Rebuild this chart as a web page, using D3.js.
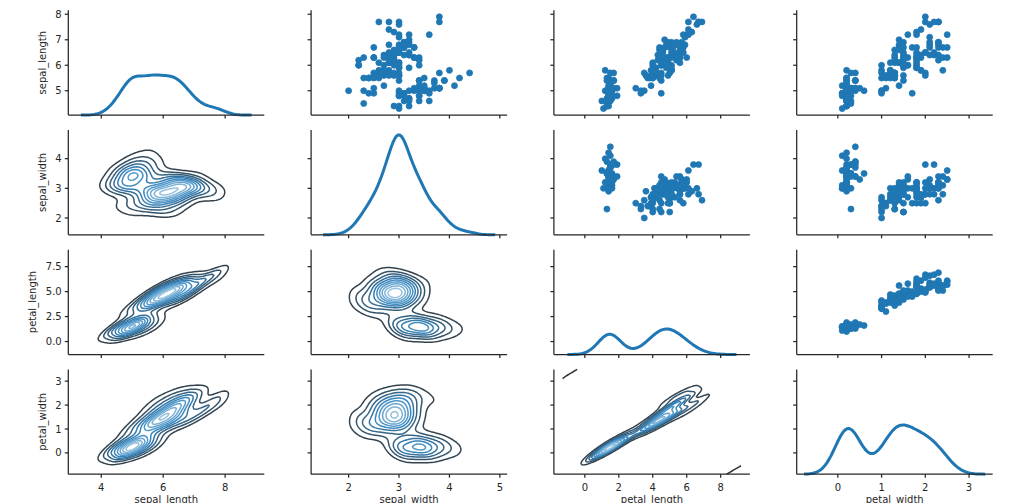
<!DOCTYPE html>
<html><head><meta charset="utf-8">
<script src="https://cdn.jsdelivr.net/npm/d3@7"></script>
<style>
body{margin:0;background:#fff}
text{font-family:"DejaVu Sans",sans-serif;font-size:10px;fill:#262626}
</style>
</head><body>
<svg id="chart" width="1024" height="503"></svg>
<script>
// ---------------- data (iris) ----------------
const varNames = ["sepal_length", "sepal_width", "petal_length", "petal_width"];

const sepal_length = [5.1,4.9,4.7,4.6,5.0,5.4,4.6,5.0,4.4,4.9,5.4,4.8,4.8,4.3,5.8,5.7,5.4,5.1,5.7,5.1,5.4,5.1,4.6,5.1,4.8,5.0,5.0,5.2,5.2,4.7,4.8,5.4,5.2,5.5,4.9,5.0,5.5,4.9,4.4,5.1,5.0,4.5,4.4,5.0,5.1,4.8,5.1,4.6,5.3,5.0,
7.0,6.4,6.9,5.5,6.5,5.7,6.3,4.9,6.6,5.2,5.0,5.9,6.0,6.1,5.6,6.7,5.6,5.8,6.2,5.6,5.9,6.1,6.3,6.1,6.4,6.6,6.8,6.7,6.0,5.7,5.5,5.5,5.8,6.0,5.4,6.0,6.7,6.3,5.6,5.5,5.5,6.1,5.8,5.0,5.6,5.7,5.7,6.2,5.1,5.7,
6.3,5.8,7.1,6.3,6.5,7.6,4.9,7.3,6.7,7.2,6.5,6.4,6.8,5.7,5.8,6.4,6.5,7.7,7.7,6.0,6.9,5.6,7.7,6.3,6.7,7.2,6.2,6.1,6.4,7.2,7.4,7.9,6.4,6.3,6.1,7.7,6.3,6.4,6.0,6.9,6.7,6.9,5.8,6.8,6.7,6.7,6.3,6.5,6.2,5.9];
const sepal_width = [3.5,3.0,3.2,3.1,3.6,3.9,3.4,3.4,2.9,3.1,3.7,3.4,3.0,3.0,4.0,4.4,3.9,3.5,3.8,3.8,3.4,3.7,3.6,3.3,3.4,3.0,3.4,3.5,3.4,3.2,3.1,3.4,4.1,4.2,3.1,3.2,3.5,3.6,3.0,3.4,3.5,2.3,3.2,3.5,3.8,3.0,3.8,3.2,3.7,3.3,
3.2,3.2,3.1,2.3,2.8,2.8,3.3,2.4,2.9,2.7,2.0,3.0,2.2,2.9,2.9,3.1,3.0,2.7,2.2,2.5,3.2,2.8,2.5,2.8,2.9,3.0,2.8,3.0,2.9,2.6,2.4,2.4,2.7,2.7,3.0,3.4,3.1,2.3,3.0,2.5,2.6,3.0,2.6,2.3,2.7,3.0,2.9,2.9,2.5,2.8,
3.3,2.7,3.0,2.9,3.0,3.0,2.5,2.9,2.5,3.6,3.2,2.7,3.0,2.5,2.8,3.2,3.0,3.8,2.6,2.2,3.2,2.8,2.8,2.7,3.3,3.2,2.8,3.0,2.8,3.0,2.8,3.8,2.8,2.8,2.6,3.0,3.4,3.1,3.0,3.1,3.1,3.1,2.7,3.2,3.3,3.0,2.5,3.0,3.4,3.0];
const petal_length = [1.4,1.4,1.3,1.5,1.4,1.7,1.4,1.5,1.4,1.5,1.5,1.6,1.4,1.1,1.2,1.5,1.3,1.4,1.7,1.5,1.7,1.5,1.0,1.7,1.9,1.6,1.6,1.5,1.4,1.6,1.6,1.5,1.5,1.4,1.5,1.2,1.3,1.4,1.3,1.5,1.3,1.3,1.3,1.6,1.9,1.4,1.6,1.4,1.5,1.4,
4.7,4.5,4.9,4.0,4.6,4.5,4.7,3.3,4.6,3.9,3.5,4.2,4.0,4.7,3.6,4.4,4.5,4.1,4.5,3.9,4.8,4.0,4.9,4.7,4.3,4.4,4.8,5.0,4.5,3.5,3.8,3.7,3.9,5.1,4.5,4.5,4.7,4.4,4.1,4.0,4.4,4.6,4.0,3.3,4.2,4.2,4.2,4.3,3.0,4.1,
6.0,5.1,5.9,5.6,5.8,6.6,4.5,6.3,5.8,6.1,5.1,5.3,5.5,5.0,5.1,5.3,5.5,6.7,6.9,5.0,5.7,4.9,6.7,4.9,5.7,6.0,4.8,4.9,5.6,5.8,6.1,6.4,5.6,5.1,5.6,6.1,5.6,5.5,4.8,5.4,5.6,5.1,5.1,5.9,5.7,5.2,5.0,5.2,5.4,5.1];
const petal_width = [0.2,0.2,0.2,0.2,0.2,0.4,0.3,0.2,0.2,0.1,0.2,0.2,0.1,0.1,0.2,0.4,0.4,0.3,0.3,0.3,0.2,0.4,0.2,0.5,0.2,0.2,0.4,0.2,0.2,0.2,0.2,0.4,0.1,0.2,0.2,0.2,0.2,0.1,0.2,0.2,0.3,0.3,0.2,0.6,0.4,0.3,0.2,0.2,0.2,0.2,
1.4,1.5,1.5,1.3,1.5,1.3,1.6,1.0,1.3,1.4,1.0,1.5,1.0,1.4,1.3,1.4,1.5,1.0,1.5,1.1,1.8,1.3,1.5,1.2,1.3,1.4,1.4,1.7,1.5,1.0,1.1,1.0,1.2,1.6,1.5,1.6,1.5,1.3,1.3,1.3,1.2,1.4,1.2,1.0,1.3,1.2,1.3,1.3,1.1,1.3,
2.5,1.9,2.1,1.8,2.2,2.1,1.7,1.8,1.8,2.5,2.0,1.9,2.1,2.0,2.4,2.3,1.8,2.2,2.3,1.5,2.3,2.0,2.0,1.8,2.1,1.8,1.8,1.8,2.1,1.6,1.9,2.0,2.2,1.5,1.4,2.3,2.4,1.8,1.8,2.1,2.4,2.3,1.9,2.3,2.5,2.3,1.9,2.0,2.3,1.8];

// tick values and labels (x axis per column, y axis per row)
const xTickValues = [[4, 6, 8], [2, 3, 4, 5], [0, 2, 4, 6, 8], [0, 1, 2, 3]];
const xTickLabels = [["4", "6", "8"], ["2", "3", "4", "5"], ["0", "2", "4", "6", "8"], ["0", "1", "2", "3"]];
const yTickValues = [[5, 6, 7, 8], [2, 3, 4], [0, 2.5, 5, 7.5], [0, 1, 2, 3]];
const yTickLabels = [["5", "6", "7", "8"], ["2", "3", "4"], ["0.0", "2.5", "5.0", "7.5"], ["0", "1", "2", "3"]];

// ---------------- layout / style ----------------
const AX_LEFT0 = 68.3, AX_DX = 242.8, AX_W = 196;
const AX_TOP0 = 10.3, AX_DY = 119.7, AX_H = 104.8;
const ROW1_PAD = 0.071, MARGIN = 0.05;
const C0 = "#1f77b4", INK = "#262626";
const GRID = 100, CUT = 3;

const columns = {sepal_length, sepal_width, petal_length, petal_width};
const V = varNames.map(n => columns[n]);
const K = V.length;

// ---------------- stats helpers ----------------
const mean = a => d3.mean(a);
function std(a, ddof) { const m = mean(a); return Math.sqrt(d3.sum(a, v => (v - m) ** 2) / (a.length - ddof)); }

function kde1d(a) {
  const n = a.length, f = Math.pow(n, -0.2);
  const h = std(a, 1) * f, bw = f * std(a, 0);
  const lo = d3.min(a) - CUT * bw, hi = d3.max(a) + CUT * bw;
  const pts = [];
  for (let k = 0; k < GRID; k++) {
    const x = lo + (hi - lo) * k / (GRID - 1);
    let s = 0;
    for (const v of a) { const u = (x - v) / h; s += Math.exp(-0.5 * u * u); }
    pts.push([x, s / (n * h * Math.sqrt(2 * Math.PI))]);
  }
  return {pts, lo, hi};
}

function kde2d(xa, ya) {
  const n = xa.length, f = Math.pow(n, -1 / 6);
  const mx = mean(xa), my = mean(ya);
  let sxx = 0, syy = 0, sxy = 0;
  for (let k = 0; k < n; k++) { const dx = xa[k] - mx, dy = ya[k] - my; sxx += dx * dx; syy += dy * dy; sxy += dx * dy; }
  sxx /= (n - 1); syy /= (n - 1); sxy /= (n - 1);
  const a = sxx * f * f, b = sxy * f * f, d = syy * f * f;
  const det = a * d - b * b;
  const ia = d / det, ib = -b / det, id = a / det;
  const norm = 2 * Math.PI * Math.sqrt(det) * n;
  const bwx = f * std(xa, 1), bwy = f * std(ya, 1);
  const x0 = d3.min(xa) - CUT * bwx, x1 = d3.max(xa) + CUT * bwx;
  const y0 = d3.min(ya) - CUT * bwy, y1 = d3.max(ya) + CUT * bwy;
  const values = new Float64Array(GRID * GRID);
  for (let j = 0; j < GRID; j++) {
    const y = y0 + (y1 - y0) * j / (GRID - 1);
    for (let i = 0; i < GRID; i++) {
      const x = x0 + (x1 - x0) * i / (GRID - 1);
      let s = 0;
      for (let k = 0; k < n; k++) {
        const ex = x - xa[k], ey = y - ya[k];
        s += Math.exp(-(ia * ex * ex + 2 * ib * ex * ey + id * ey * ey) / 2);
      }
      values[j * GRID + i] = s / norm;
    }
  }
  return {values, x0, x1, y0, y1, zmin: d3.min(values), zmax: d3.max(values)};
}

// matplotlib MaxNLocator(N+1) level selection for contour(N=10)
function mplLevels(zmin, zmax, nbins) {
  const steps = [1, 1.5, 2, 2.5, 3, 4, 5, 6, 8, 10];
  const dv = zmax - zmin;
  const scale = Math.pow(10, Math.floor(Math.log10(dv / nbins)));
  const ext = [...steps.slice(0, -1).map(s => s * 0.1), ...steps, steps[1] * 10].map(s => s * scale);
  const raw = dv / nbins;
  let istep = ext.findIndex(s => s >= raw);
  let ticks = [];
  for (let q = istep; q < ext.length; q++) {
    const step = ext[q];
    const best = Math.floor(zmin / step) * step;
    const tol = 1e-10;
    const low = Math.floor((zmin - best) / step + tol);
    const high = Math.ceil((zmax - best) / step - tol);
    ticks = [];
    for (let t = low; t <= high; t++) ticks.push(t * step + best);
    const cnt = ticks.filter(t => t <= zmax && t >= zmin).length;
    if (cnt >= 1) break;
  }
  const under = ticks.map((t, i) => t < zmin ? i : -1).filter(i => i >= 0);
  const i0 = under.length ? under[under.length - 1] : 0;
  const overIdx = ticks.findIndex(t => t > zmax);
  const i1 = overIdx >= 0 ? overIdx + 1 : ticks.length;
  return ticks.slice(i0, i1);
}

const blues_d = d3.piecewise(d3.interpolateRgb, ["#333333", "#3787c0", "#abd0e6"]);

// ---------------- compute ----------------
const k1 = V.map(kde1d);
const k2 = {};
for (let i = 0; i < K; i++) for (let j = 0; j < i; j++) k2[i + "_" + j] = kde2d(V[j], V[i]);

const colDom = V.map((a, j) => {
  let lo = Math.min(d3.min(a), k1[j].lo), hi = Math.max(d3.max(a), k1[j].hi);
  for (let i = j + 1; i < K; i++) { const g = k2[i + "_" + j]; lo = Math.min(lo, g.x0); hi = Math.max(hi, g.x1); }
  const m = (hi - lo) * MARGIN;
  return [lo - m, hi + m];
});
const rowDom = V.map((a, i) => {
  if (i === 0) { const lo = d3.min(a), hi = d3.max(a), m = (hi - lo) * ROW1_PAD; return [lo - m, hi + m]; }
  const g = k2[i + "_0"];
  return [g.y0, g.y1];
});
const allDens = k1.flatMap(k => k.pts.map(p => p[1]));
const dMin = d3.min(allDens), dMax = d3.max(allDens);
const diagTop = dMax + (dMax - dMin) * MARGIN;

// ---------------- draw ----------------
const svg = d3.select("#chart");
const xs = colDom.map(dm => d3.scaleLinear().domain(dm).range([0, AX_W]));
const ys = rowDom.map(dm => d3.scaleLinear().domain(dm).range([AX_H, 0]));
const dy = d3.scaleLinear().domain([0, diagTop]).range([AX_H, 0]);
const contourGen = d3.contours().size([GRID, GRID]);

function contourPaths(g, level, sx, sy) {
  const geom = contourGen.contour(g.values, level);
  const gx = (g.x1 - g.x0) / (GRID - 1), gy = (g.y1 - g.y0) / (GRID - 1);
  const P = c => [sx(g.x0 + (c[0] - 0.5) * gx), sy(g.y0 + (c[1] - 0.5) * gy)];
  const fmt = pts => "M" + pts.map(p => P(p).map(v => v.toFixed(2)).join(",")).join("L");
  const onB = c => c[0] <= 0 || c[0] >= GRID || c[1] <= 0 || c[1] >= GRID;
  let dstr = "";
  for (const poly of geom.coordinates) for (const ring of poly) {
    if (!ring.some(onB)) { dstr += fmt(ring) + "Z"; continue; }
    const start = ring.findIndex(onB), n = ring.length;
    let run = [];
    for (let t = 1; t <= n; t++) {
      const c = ring[(start + t) % n];
      if (onB(c)) { if (run.length > 1) dstr += fmt(run); run = []; }
      else run.push(c);
    }
    if (run.length > 1) dstr += fmt(run);
  }
  return dstr;
}

for (let i = 0; i < K; i++) {
  for (let j = 0; j < K; j++) {
    const g = svg.append("g").attr("transform", `translate(${AX_LEFT0 + j * AX_DX},${AX_TOP0 + i * AX_DY})`);
    const sx = xs[j], sy = ys[i];
    if (i < j) {
      g.selectAll("circle").data(d3.range(V[j].length)).join("circle")
        .attr("cx", k => sx(V[j][k])).attr("cy", k => sy(V[i][k]))
        .attr("r", 3).attr("fill", C0).attr("stroke", C0).attr("stroke-width", 0.8);
    } else if (i > j) {
      const kd = k2[i + "_" + j];
      const levels = mplLevels(kd.zmin, kd.zmax, 11);
      const lmin = levels[0], lmax = levels[levels.length - 1];
      levels.forEach(L => {
        const col = blues_d((L - lmin) / (lmax - lmin));
        let d = "";
        if (L > kd.zmin && L < kd.zmax) d = contourPaths(kd, L, sx, sy);
        else if (L === kd.zmin && kd.zmin === 0) d = contourPaths(kd, Number.MIN_VALUE, sx, sy);
        if (d) g.append("path").attr("d", d).attr("fill", "none").attr("stroke", col)
          .attr("stroke-width", 1.5).attr("stroke-linejoin", "round");
      });
    } else {
      const line = d3.line().x(p => sx(p[0])).y(p => dy(p[1]));
      g.append("path").attr("d", line(k1[i].pts)).attr("fill", "none").attr("stroke", C0)
        .attr("stroke-width", 3).attr("stroke-linecap", "square").attr("stroke-linejoin", "round");
    }
    // spines
    g.append("line").attr("x1", 0).attr("x2", 0).attr("y1", 0).attr("y2", AX_H).attr("stroke", INK).attr("stroke-width", 1.25);
    g.append("line").attr("x1", 0).attr("x2", AX_W).attr("y1", AX_H).attr("y2", AX_H).attr("stroke", INK).attr("stroke-width", 1.25);
    // x ticks
    xTickValues[j].forEach((t, q) => {
      if (t < colDom[j][0] || t > colDom[j][1]) return;
      const px = sx(t);
      g.append("line").attr("x1", px).attr("x2", px).attr("y1", AX_H).attr("y2", AX_H + 3.5).attr("stroke", INK).attr("stroke-width", 1.25);
      if (i === K - 1) g.append("text").attr("x", px).attr("y", AX_H + 16.4).attr("text-anchor", "middle").text(xTickLabels[j][q]);
    });
    // y ticks
    let maxTW = 0;
    yTickValues[i].forEach((t, q) => {
      if (t < rowDom[i][0] || t > rowDom[i][1]) return;
      const py = sy(t);
      g.append("line").attr("x1", 0).attr("x2", -3.5).attr("y1", py).attr("y2", py).attr("stroke", INK).attr("stroke-width", 1.25);
      if (j === 0) {
        const tx = g.append("text").attr("x", -6.6).attr("y", py + 3.6).attr("text-anchor", "end").text(yTickLabels[i][q]);
        maxTW = Math.max(maxTW, tx.node().getComputedTextLength());
      }
    });
    if (j === 0) {
      const lx = -(6.6 + maxTW + 9.8);
      g.append("text").attr("transform", `translate(${lx},${AX_H / 2}) rotate(-90)`).attr("text-anchor", "middle").text(varNames[i]);
    }
    if (i === K - 1) g.append("text").attr("x", AX_W / 2).attr("y", AX_H + 28.6).attr("text-anchor", "middle").text(varNames[j]);
  }
}
</script>
</body></html>
